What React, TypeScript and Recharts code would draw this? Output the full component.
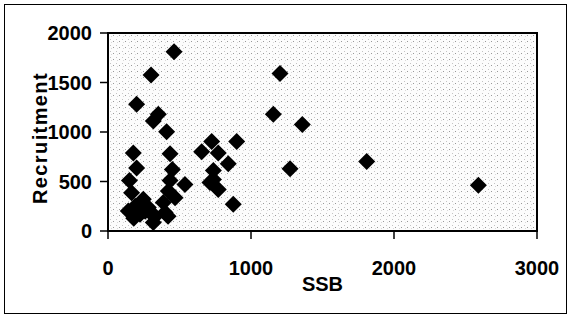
import {
    ScatterChart,
    Scatter,
    XAxis,
    YAxis,
    CartesianGrid,
    ReferenceArea,
    Label
} from 'recharts';

// SSB values (x) and recruitment values (y)
const ssb = [
    462, 301, 1203, 200, 352, 317, 1156, 1359, 410, 725,
    900, 177, 434, 655, 771, 841, 200, 450, 1273, 737,
    150, 434, 538, 713, 737, 771, 165, 469, 876, 247,
    142, 224, 317, 399, 282, 387, 1809, 2590, 190, 330,
    420, 300, 422, 180, 260
];
const recruitment = [
    1810, 1577, 1590, 1280, 1180, 1110, 1180, 1075, 1003, 903,
    905, 787, 780, 800, 787, 680, 637, 620, 630, 610,
    510, 510, 470, 490, 520, 420, 387, 337, 270, 320,
    203, 170, 87, 187, 237, 287, 703, 463, 250, 150,
    150, 180, 403, 130, 200
];

const xTicks = [0, 1000, 2000, 3000];
const yTicks = [0, 500, 1000, 1500, 2000];

const points = ssb.map((x, i) => ({ ssb: x, recruitment: recruitment[i] }));

const font = '"Liberation Sans", Arial, sans-serif';

const Diamond = (props: any) => {
    const { cx, cy } = props;
    const r = 8.5;
    return (
        <polygon
            points={`${cx},${cy - r} ${cx + r},${cy} ${cx},${cy + r} ${cx - r},${cy}`}
            fill="#000"
        />
    );
};

export default function App() {
    return (
        <div
            style={{
                position: 'absolute',
                left: 4,
                top: 4,
                width: 563,
                height: 310,
                border: '1px solid #000',
                boxSizing: 'border-box',
                background: '#fff'
            }}
        >
            <ScatterChart
                width={561}
                height={308}
                margin={{ top: 28, right: 29, bottom: 0, left: 0 }}
            >
                <defs>
                    <pattern id="stipple" width="6" height="6" patternUnits="userSpaceOnUse">
                        <rect width="6" height="6" fill="#fcfcfc" />
                        <rect x="0" y="0" width="1" height="1" fill="#999" />
                        <rect x="3" y="4" width="1" height="1" fill="#c4c4c4" />
                        <rect x="4" y="1" width="1" height="1" fill="#d8d8d8" />
                    </pattern>
                </defs>
                <CartesianGrid
                    horizontal={false}
                    vertical={false}
                    fill="url(#stipple)"
                    stroke="none"
                />
                <XAxis
                    type="number"
                    dataKey="ssb"
                    domain={[0, 3000]}
                    ticks={xTicks}
                    height={82}
                    axisLine={{ stroke: '#000', strokeWidth: 2 }}
                    tickLine={{ stroke: '#000', strokeWidth: 1.5 }}
                    tickSize={8}
                    tickMargin={22}
                    tick={{ fill: '#000', fontSize: 20, fontWeight: 'bold', fontFamily: font }}
                >
                    <Label
                        value="SSB"
                        position="insideBottom"
                        offset={22}
                        style={{ fill: '#000', fontSize: 20, fontWeight: 'bold', fontFamily: font }}
                    />
                </XAxis>
                <YAxis
                    type="number"
                    dataKey="recruitment"
                    domain={[0, 2000]}
                    ticks={yTicks}
                    width={103}
                    axisLine={{ stroke: '#000', strokeWidth: 2 }}
                    tickLine={{ stroke: '#000', strokeWidth: 1.5 }}
                    tickSize={8}
                    tickMargin={8}
                    tick={{ fill: '#000', fontSize: 20, fontWeight: 'bold', fontFamily: font }}
                >
                    <Label
                        content={({ viewBox }: any) => (
                            <text
                                x={viewBox.x + 42}
                                y={viewBox.y + viewBox.height / 2 + 6}
                                transform={`rotate(-90 ${viewBox.x + 42} ${viewBox.y + viewBox.height / 2 + 6})`}
                                textAnchor="middle"
                                style={{
                                    fill: '#000',
                                    fontSize: 20,
                                    fontWeight: 'bold',
                                    fontFamily: font,
                                    letterSpacing: 1.4
                                }}
                            >
                                Recruitment
                            </text>
                        )}
                    />
                </YAxis>
                <ReferenceArea
                    x1={0}
                    x2={3000}
                    y1={0}
                    y2={2000}
                    fill="none"
                    stroke="#000"
                    strokeWidth={2}
                />
                <Scatter
                    data={points}
                    shape={<Diamond />}
                    isAnimationActive={false}
                />
            </ScatterChart>
        </div>
    );
}
